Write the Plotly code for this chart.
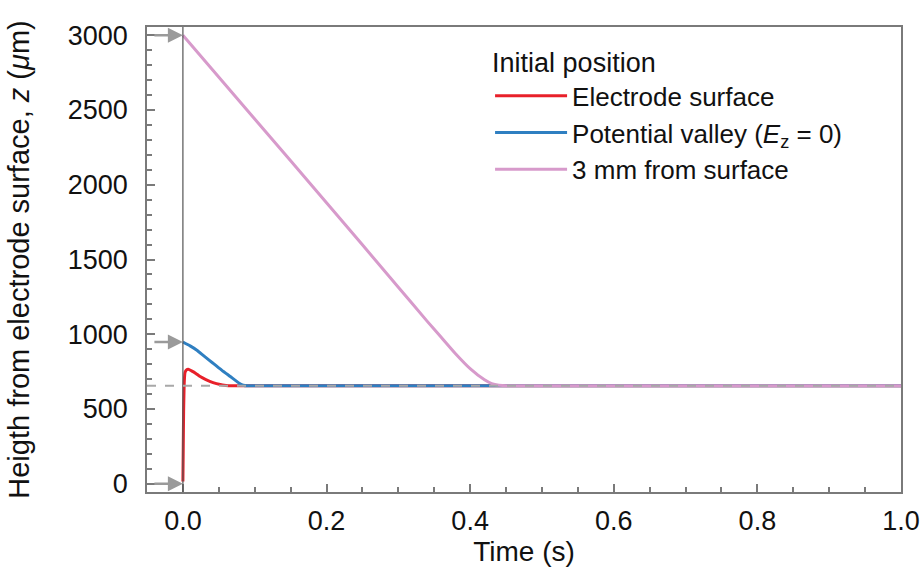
import plotly.graph_objects as go

# ---- data ----
t_red = [0.0, 0.0005, 0.001, 0.002, 0.003, 0.005, 0.0075, 0.012, 0.018, 0.024, 0.032, 0.042, 0.052, 0.06, 0.066, 0.08, 1.0]
z_red = [15, 250, 480, 690, 745, 762, 766, 755, 738, 717, 697, 677, 664, 658, 655, 655, 655]

t_blue = [0.0, 0.01, 0.019, 0.03, 0.042, 0.054, 0.066, 0.074, 0.079, 0.084, 0.09, 1.0]
z_blue = [948, 922, 895, 852, 806, 760, 717, 688, 670, 659, 655, 655]

t_pink = [0.0, 0.1, 0.2, 0.3, 0.34, 0.36, 0.38, 0.40, 0.42, 0.43, 0.44, 0.452, 1.0]
z_pink = [3000, 2440, 1880, 1315, 1088, 978, 868, 770, 695, 670, 659, 655, 655]

equilibrium_z = 655
start_heights = [3000, 948, 0]

names = ["Electrode surface", "Potential valley (<i>E</i><sub>z</sub> = 0)", "3 mm from surface"]
colors = ["#e8202a", "#2f7fc1", "#d79acb"]

x_ticks = [0.0, 0.2, 0.4, 0.6, 0.8, 1.0]
x_ticklabels = ["0.0", "0.2", "0.4", "0.6", "0.8", "1.0"]
y_ticks = [0, 500, 1000, 1500, 2000, 2500, 3000]

FONT = "Liberation Sans, Arial, sans-serif"

fig = go.Figure()
for t, z, n, c in zip([t_red, t_blue, t_pink], [z_red, z_blue, z_pink], names, colors):
    fig.add_trace(go.Scatter(x=t, y=z, mode="lines", name=n,
                             line=dict(color=c, width=3, shape="spline", smoothing=0.6)))

# vertical line at t = 0
fig.add_shape(type="line", xref="x", yref="paper", x0=0, x1=0, y0=0, y1=1,
              line=dict(color="#555555", width=1.2), layer="above")
# equilibrium dashed line
fig.add_shape(type="line", xref="paper", yref="y", x0=0, x1=1, y0=equilibrium_z, y1=equilibrium_z,
              line=dict(color="#a8a8a8", width=2, dash="dash"), layer="above")

for h in start_heights:
    fig.add_annotation(x=0, y=h, xref="x", yref="y", text="", showarrow=True,
                       ax=-30, ay=0, arrowhead=2, arrowsize=1.2, arrowwidth=2.5,
                       arrowcolor="#9a9a9a", standoff=0)

axis_common = dict(showline=True, linecolor="#7a7a7a", linewidth=1.5, mirror=True,
                   ticks="inside", tickcolor="#7a7a7a", ticklen=8, tickwidth=1.5,
                   showgrid=False, zeroline=False, automargin=False,
                   tickfont=dict(family=FONT, size=27, color="#111111"))

fig.update_xaxes(range=[-0.05, 1.0], tickvals=x_ticks, ticktext=x_ticklabels,
                 ticklabelstandoff=4,
                 minor=dict(dtick=0.05, ticks="inside", ticklen=5, tickcolor="#7a7a7a", tickwidth=1.5),
                 title=dict(text="Time (s)", font=dict(family=FONT, size=28, color="#111111"), standoff=2),
                 **axis_common)
fig.update_yaxes(range=[-55, 3055], tickvals=y_ticks,
                 ticklabelstandoff=12,
                 minor=dict(dtick=100, ticks="inside", ticklen=5, tickcolor="#7a7a7a", tickwidth=1.5),
                 title=dict(text="Heigth from electrode surface, <i>z</i> (<i>μ</i>m)",
                            font=dict(family=FONT, size=29, color="#111111"), standoff=30),
                 **axis_common)

fig.update_layout(
    width=923, height=567,
    margin=dict(l=147, r=22, t=27, b=75),
    paper_bgcolor="white", plot_bgcolor="white",
    showlegend=True,
    legend=dict(x=0.455, y=0.978, xanchor="left", yanchor="top",
                title=dict(text="Initial position", side="top", font=dict(family=FONT, size=27, color="#111111")),
                font=dict(family=FONT, size=26, color="#111111"),
                bgcolor="rgba(0,0,0,0)", itemwidth=72, tracegroupgap=0),
)

fig.write_html("out.html")
